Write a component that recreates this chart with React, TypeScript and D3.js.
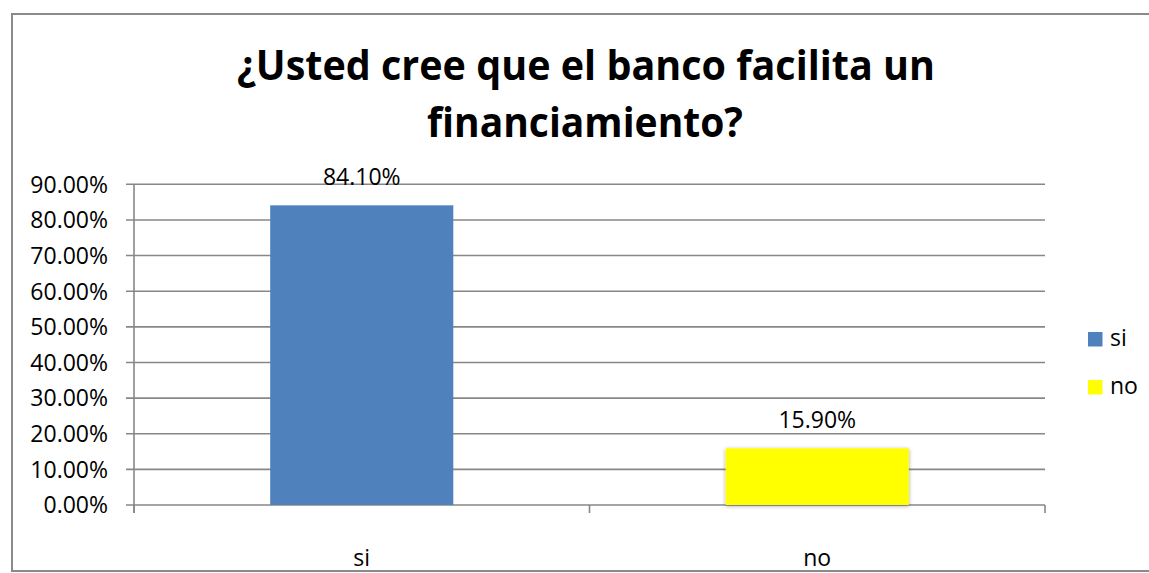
import React from "react";
import * as d3 from "d3";

const titleLines = ["¿Usted cree que el banco facilita un", "financiamiento?"];
const categories = ["si", "no"];
const values = [0.841, 0.159];
const colors = ["#4F81BD", "#FFFF00"];
const yTicks = [0, 0.1, 0.2, 0.3, 0.4, 0.5, 0.6, 0.7, 0.8, 0.9];

const W = 1149;
const H = 573;
const FONT = "'Open Sans', 'Liberation Sans', sans-serif";

export default function App() {
  const x = d3.scaleBand<string>().domain(categories).range([134, 1045]).padding(0);
  const y = d3.scaleLinear().domain([0, 0.9]).range([505, 184.3]);
  const fmt = d3.format(".2%");
  const bw = x.bandwidth() * 0.402;
  const grid = "#878787";
  const boundaries = [134, ...categories.map((c) => (x(c) as number) + x.bandwidth())];

  return (
    <svg
      width={W}
      height={H}
      style={{ position: "fixed", left: 0, top: 0, display: "block", background: "#fff" }}
      fontFamily={FONT}
    >
      <defs>
        <filter id="sh" x="-10%" y="-20%" width="120%" height="140%">
          <feGaussianBlur in="SourceAlpha" stdDeviation="2" />
          <feOffset dx="0" dy="1" result="b" />
          <feComponentTransfer>
            <feFuncA type="linear" slope="0.35" />
          </feComponentTransfer>
          <feMerge>
            <feMergeNode />
            <feMergeNode in="SourceGraphic" />
          </feMerge>
        </filter>
      </defs>
      <rect x={0} y={0} width={W} height={H} fill="#fff" />

      {/* title */}
      <text x={586} y={80} textAnchor="middle" fontWeight="bold" fontSize={41} fill="#000"
        textLength={698} lengthAdjust="spacingAndGlyphs">
        {titleLines[0]}
      </text>
      <text x={585} y={137} textAnchor="middle" fontWeight="bold" fontSize={41} fill="#000"
        textLength={316} lengthAdjust="spacingAndGlyphs">
        {titleLines[1]}
      </text>

      {/* gridlines + y ticks */}
      {yTicks.map((t) => (
        <g key={t}>
          <line x1={126} x2={1045} y1={y(t)} y2={y(t)} stroke={grid} strokeWidth={1.6} />
          <text x={108} y={y(t) + 8.3} textAnchor="end" fontSize={23} fill="#000">
            {fmt(t)}
          </text>
        </g>
      ))}
      {/* y axis */}
      <line x1={134} x2={134} y1={y(0.9)} y2={513} stroke={grid} strokeWidth={1.6} />
      {/* category ticks */}
      {boundaries.map((b, i) => (
        <line key={i} x1={b} x2={b} y1={y(0)} y2={513} stroke={grid} strokeWidth={1.6} />
      ))}

      {/* bars */}
      {categories.map((c, i) => {
        const cx = (x(c) as number) + x.bandwidth() / 2;
        return (
          <g key={c}>
            <rect
              x={cx - bw / 2}
              y={y(values[i])}
              width={bw}
              height={y(0) - y(values[i])}
              fill={colors[i]}
              filter={i === 1 ? "url(#sh)" : undefined}
            />
            <text x={cx} y={y(values[i]) - 20} textAnchor="middle" fontSize={23} fill="#000">
              {fmt(values[i])}
            </text>
            <text x={cx} y={566} textAnchor="middle" fontSize={23} fill="#000">
              {c}
            </text>
          </g>
        );
      })}

      {/* legend */}
      {categories.map((c, i) => (
        <g key={"lg" + c}>
          <rect x={1088} y={332 + i * 48} width={14.5} height={14.5} fill={colors[i]} />
          <text x={1110} y={346 + i * 48} fontSize={23} fill="#000">
            {c}
          </text>
        </g>
      ))}

      {/* chart border */}
      <path d={`M${W + 5},14 H12 V571 H${W + 5}`} fill="none" stroke="#8a8a8a" strokeWidth={2} />
    </svg>
  );
}
